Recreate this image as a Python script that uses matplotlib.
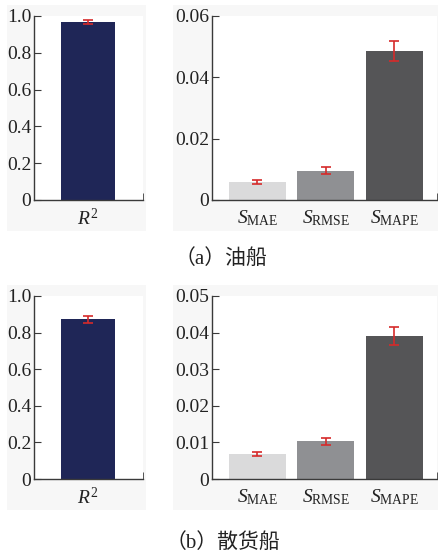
import matplotlib.pyplot as plt
from matplotlib.patches import Rectangle

plt.rcParams['font.family'] = ['Liberation Serif', 'Noto Sans CJK SC']
plt.rcParams['mathtext.fontset'] = 'custom'
plt.rcParams['mathtext.rm'] = 'Liberation Serif'
plt.rcParams['mathtext.it'] = 'Liberation Serif:italic'

# data
r2_label = ['$R^2$']
err_labels = ['$S_{\\mathrm{MAE}}$', '$S_{\\mathrm{RMSE}}$', '$S_{\\mathrm{MAPE}}$']

tanker_r2 = [0.967]
tanker_r2_err = [0.012]
tanker_vals = [0.0059, 0.0095, 0.0487]
tanker_errs = [0.0006, 0.0011, 0.0033]

bulk_r2 = [0.873]
bulk_r2_err = [0.018]
bulk_vals = [0.0068, 0.0103, 0.0390]
bulk_errs = [0.0005, 0.0010, 0.0024]

r2_color = '#1f2657'
err_colors = ['#dadadb', '#8f9093', '#555557']
ebar_color = '#d62a2a'
spine_color = '#3a3a3a'

W, H = 438, 555
fig = plt.figure(figsize=(W / 100, H / 100), dpi=100)
fig.patch.set_facecolor('white')


def px_rect(x0, y0, x1, y1):
    # pixel box (top-left origin) -> figure fraction [l, b, w, h]
    return [x0 / W, 1 - y1 / H, (x1 - x0) / W, (y1 - y0) / H]


def panel(x0, y0, x1, y1):
    l, b, w, h = px_rect(x0, y0, x1, y1)
    fig.patches.append(Rectangle((l, b), w, h, transform=fig.transFigure,
                                 facecolor='#f7f7f7', edgecolor='none', zorder=-5))


def style(ax, xlim, ylim, yticks, ylabels):
    ax.set_zorder(2)
    ax.set_facecolor('white')
    ax.set_xlim(*xlim)
    ax.set_ylim(*ylim)
    ax.set_yticks(yticks)
    ax.set_yticklabels(ylabels)
    for s in ['top', 'right']:
        ax.spines[s].set_visible(False)
    for s in ['left', 'bottom']:
        ax.spines[s].set_color(spine_color)
        ax.spines[s].set_linewidth(1.0)
    ax.tick_params(axis='y', direction='in', length=5, color=spine_color,
                   labelsize=14, pad=2, labelcolor='#222222')
    ax.tick_params(axis='x', which='major', length=0, labelsize=14, pad=6,
                   labelcolor='#222222')
    ax.set_xticks([xlim[1]], minor=True)
    ax.tick_params(axis='x', which='minor', direction='in', length=5,
                   color=spine_color)


def draw_row(y0, y1, r2, r2_err, vals, errs, ymax, yticks, ylabels):
    panel(7, y0 - 11, 146, y1 + 31)
    panel(173, y0 - 11, 438, y1 + 31)

    ax1 = fig.add_axes(px_rect(34, y0, 143, y1))
    ax1.bar([0], r2, width=1.0, color=r2_color, zorder=2)
    ax1.errorbar([0], r2, yerr=r2_err, fmt='none', ecolor=ebar_color,
                 elinewidth=1.2, capsize=3.5, capthick=1.2, zorder=3)
    ax1.set_xticks([0])
    ax1.set_xticklabels(r2_label)
    style(ax1, (-1.0, 1.02), (0, 1.0), [0, 0.2, 0.4, 0.6, 0.8, 1.0],
          ['0', '0.2', '0.4', '0.6', '0.8', '1.0'])

    ax2 = fig.add_axes(px_rect(212, y0, 437, y1))
    x = range(len(vals))
    ax2.bar(x, vals, width=0.83, color=err_colors, zorder=2)
    ax2.errorbar(x, vals, yerr=errs, fmt='none', ecolor=ebar_color,
                 elinewidth=1.2, capsize=3.5, capthick=1.2, zorder=3)
    ax2.set_xticks(list(x))
    ax2.set_xticklabels(err_labels)
    style(ax2, (-0.66, 2.62), (0, ymax), yticks, ylabels)


draw_row(16, 200, tanker_r2, tanker_r2_err, tanker_vals, tanker_errs,
         0.06, [0, 0.02, 0.04, 0.06], ['0', '0.02', '0.04', '0.06'])
draw_row(296, 479, bulk_r2, bulk_r2_err, bulk_vals, bulk_errs,
         0.05, [0, 0.01, 0.02, 0.03, 0.04, 0.05],
         ['0', '0.01', '0.02', '0.03', '0.04', '0.05'])

cap_font = ['Liberation Serif', 'Noto Sans CJK SC']
fig.text(221 / W, 1 - 259 / H, '（a）油船', ha='center', va='center',
         fontsize=15, family=cap_font, color='#222222')
fig.text(223 / W, 1 - 543 / H, '（b）散货船', ha='center', va='center',
         fontsize=15, family=cap_font, color='#222222')

fig.savefig('out.png', dpi=100)
